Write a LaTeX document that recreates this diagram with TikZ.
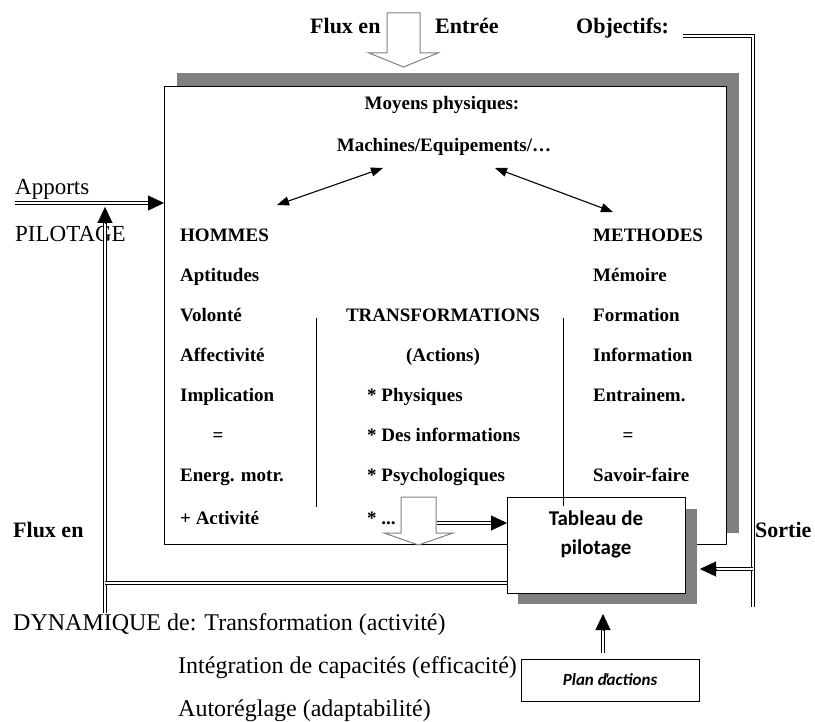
\documentclass[tikz,border=0pt]{standalone}
\usepackage{fontspec}
\setmainfont{Liberation Serif}
\newfontfamily\calib{Carlito}
\usetikzlibrary{arrows.meta,calc}
\definecolor{shadowgray}{HTML}{808080}
\newcommand\dblconn[2]{%
  \draw[dbl, shorten >=14pt] (#1) -- (#2);
  \draw[headonly] ($(#2)!16pt!(#1)$) -- (#2);}
\begin{document}
\begin{tikzpicture}[x=1pt,y=-1pt,
  intxt/.style={font=\fontsize{19}{22}\selectfont\bfseries, inner sep=0pt, anchor=base west},
  intxtc/.style={intxt, anchor=base},
  toplbl/.style={font=\fontsize{22}{26}\selectfont\bfseries, inner sep=0pt, anchor=base west},
  reglbl/.style={font=\fontsize{23}{27}\selectfont, inner sep=0pt, anchor=base west},
  botlbl/.style={font=\fontsize{24}{28}\selectfont, inner sep=0pt, anchor=base west},
  dbl/.style={double, double distance=2pt, line width=1pt},
  headonly/.style={line width=0.3pt, -{Triangle[length=16pt,width=15pt]}},
  thinarrow/.style={line width=1.1pt, {Triangle[length=12pt,width=9pt]}-{Triangle[length=12pt,width=9pt]}},
  hollow/.style={draw=shadowgray, fill=white, line width=1pt, line join=miter},
  shadow/.style={fill=shadowgray, draw=none},
  boxnode/.style={draw, fill=white, line width=0.9pt, inner sep=0pt, anchor=north west},
]
\useasboundingbox (0,0) rectangle (815,722);

% ---- main box with shadow
\fill[shadow] (177,73) rectangle (739,533);
\node[boxnode, minimum width=562pt, minimum height=458pt] (main) at (164,86) {};

% ---- top labels and input arrow
\node[toplbl] (fluxin) at (310,34) {Flux en};
\node[toplbl] (entree) at (435,34) {Entrée};
\node[toplbl] (obj) at (576,34) {Objectifs:};
\draw[hollow] (387,13) -- (420,13) -- (420,53) -- (438,53) -- (403.5,67) -- (369,53) -- (387,53) -- cycle;

% ---- inside texts
\node[intxtc] (moyens) at (442,110) {Moyens physiques:};
\node[intxtc] (machines) at (444,152) {Machines/Equipements/…};

\node[intxt] (hommes) at (180,242) {HOMMES};
\node[intxt] (apt) at (180,282) {Aptitudes};
\node[intxt] (vol) at (180,322) {Volonté};
\node[intxt] (aff) at (180,362) {Affectivité};
\node[intxt] (impl) at (180,402) {Implication};
\node[intxtc] (eq1) at (218,442) {=};
\node[intxt] (energ) at (180,482) {Energ. motr.};
\node[intxt] (act) at (180,524) {+ Activité};

\node[intxtc] (transf) at (443,322) {TRANSFORMATIONS};
\node[intxtc] (actions) at (443,362) {(Actions)};
\node[intxt] (phys) at (367,402) {* Physiques};
\node[intxt] (info) at (367,442) {* Des informations};
\node[intxt] (psy) at (367,482) {* Psychologiques};
\node[intxt] (etc) at (367,524) {* ...};

\node[intxt] (meth) at (593,242) {METHODES};
\node[intxt] (mem) at (593,282) {Mémoire};
\node[intxt] (form) at (593,322) {Formation};
\node[intxt] (infm) at (593,362) {Information};
\node[intxt] (entr) at (593,402) {Entrainem.};
\node[intxtc] (eq2) at (628,442) {=};
\node[intxt] (sav) at (593,482) {Savoir-faire};

% double-headed arrows
\coordinate (la) at (277,205);
\coordinate (lb) at (383,168);
\coordinate (ra) at (495,168);
\coordinate (rb) at (613,212);
\draw[thinarrow] (la) -- (lb);
\draw[thinarrow] (ra) -- (rb);

% separators
\draw[line width=0.9pt] (316,318) -- (316,507);
\draw[line width=0.9pt] (563,318) -- (563,506);

% lower hollow arrow
\draw[hollow] (401,497) -- (436,497) -- (436,533) -- (453,533) -- (418.5,545) -- (384,533) -- (401,533) -- cycle;

% ---- tableau de pilotage
\fill[shadow] (518,509) rectangle (697,604);
\node[boxnode, minimum width=178pt, minimum height=96pt] (tab) at (507,497) {};
\draw[line width=0.9pt] (563,497) -- (563,506);
\node[font=\calib\fontsize{21}{29}\selectfont\bfseries, align=center, inner sep=0pt] (tabtxt) at (596,534) {Tableau de\\pilotage};

% arrow from transformations to tableau
\coordinate (tin) at (437,523);
\coordinate (tinE) at (tab.west |- tin);
\dblconn{tin}{tinE}

% ---- plan d'actions
\node[boxnode, minimum width=178pt, minimum height=42pt] (plan) at (521,659) {};
\node[font=\calib\fontsize{17}{20}\selectfont\bfseries\itshape, inner sep=0pt] (plantxt) at (610,680) {Plan d\kern-0.12em'\kern-0.12em actions};
\coordinate (pup) at (603,653);
\coordinate (ptop) at (603,614);
\dblconn{pup}{ptop}

% ---- left loop
\node[reglbl] (apports) at (15,195) {Apports};
\node[reglbl] (pilot) at (15,242) {PILOTAGE};
\coordinate (apL) at (15,203);
\coordinate (apR) at (main.west |- apL);
\dblconn{apL}{apR}
\coordinate (vbot) at (105,613);
\coordinate (vtop) at (105,207);
\dblconn{vbot}{vtop}
\coordinate (hl) at (105,583);
\coordinate (hr) at (tab.west |- hl);
\draw[dbl] (hl) -- (hr);

% ---- right loop
\coordinate (objA) at (683,36);
\coordinate (objC) at (753,36);
\coordinate (objD) at (753,607);
\draw[dbl] (objA) -- (objC) -- (objD);
\coordinate (sortA) at (753,569);
\coordinate (sortB) at (700,569);
\dblconn{sortA}{sortB}

\node[toplbl] (fluxout) at (13,537) {Flux en};
\node[toplbl] (sortie) at (755,537) {Sortie};

% ---- bottom texts
\node[botlbl] (dyn) at (13,630) {DYNAMIQUE de: Transformation (activité)};
\node[botlbl] (integ) at (178,673) {Intégration de capacités (efficacité)};
\node[botlbl] (autor) at (178,716) {Autoréglage (adaptabilité)};
\end{tikzpicture}
\end{document}
